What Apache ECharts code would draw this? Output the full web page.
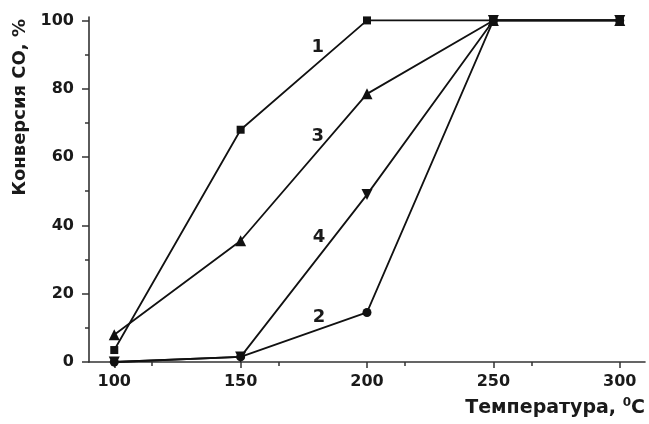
<!DOCTYPE html>
<html><head><meta charset="utf-8">
<script src="https://cdn.jsdelivr.net/npm/echarts@6/dist/echarts.min.js"></script>
<style>html,body{margin:0;padding:0;background:#fff}#c{width:649px;height:424px}</style>
</head><body><div id="c"></div>
<script>
const temps = [100, 150, 200, 250, 300];
const s1 = [3.5, 68, 100, 100, 100];
const s2 = [0, 1.5, 14.5, 100, 100];
const s3 = [8, 35.5, 78.5, 100, 100];
const s4 = [0, 1.5, 49, 100, 100];
const curveLabels = [
  {name: '1', x: 180.5, y: 92},
  {name: '3', x: 180.5, y: 66},
  {name: '4', x: 181, y: 36.5},
  {name: '2', x: 181, y: 13}
];
const xTicks = [100, 150, 200, 250, 300];
const yTicks = [0, 20, 40, 60, 80, 100];

const FONT = '"DejaVu Sans", sans-serif';
const chart = echarts.init(document.getElementById('c'));
function pts(vals){ return temps.map((t,i)=>[t, vals[i]]); }
function mk(name, vals, symbol, size, rot){
  return {name, type:'line', data: pts(vals), symbol, symbolSize: size, symbolRotate: rot||0,
    lineStyle:{color:'#111', width:1.8}, itemStyle:{color:'#111'}, showSymbol:true, z:3, animation:false};
}
chart.setOption({
  animation:false,
  grid:{left:89, right:4, top:17, bottom:62},
  xAxis:{type:'value', min:90, max:310, interval:50,
    axisLine:{onZero:false, lineStyle:{color:'#333', width:1.6}},
    axisTick:{show:true, length:6, inside:false, lineStyle:{color:'#333', width:1.5},
      customValues: xTicks},
    minorTick:{show:true, splitNumber:2, length:4, lineStyle:{color:'#333', width:1.5}},
    splitLine:{show:false},
    axisLabel:{customValues: xTicks, color:'#1a1a1a', fontFamily:FONT, fontWeight:'bold', fontSize:16, margin:12}
  },
  yAxis:{type:'value', min:0, max:101,
    axisLine:{show:true, lineStyle:{color:'#333', width:1.6}},
    axisTick:{show:true, length:7, lineStyle:{color:'#333', width:1.5}, customValues: yTicks},
    minorTick:{show:true, splitNumber:2, length:4, lineStyle:{color:'#333', width:1.5}},
    splitLine:{show:false},
    axisLabel:{customValues: yTicks, color:'#1a1a1a', fontFamily:FONT, fontWeight:'bold', fontSize:16, margin:15}
  },
  graphic:[
    {type:'text', left:11, top:19, rotation:Math.PI/2,
      style:{text:'Конверсия СО, %', font:'bold 18px '+FONT, fill:'#1a1a1a'}},
    {type:'text', right:4, top:397,
      style:{text:'Температура, {s|0}C', font:'bold 19px '+FONT, fill:'#1a1a1a',
        rich:{s:{font:'bold 12px '+FONT, verticalAlign:'top', padding:[0,0,10,0], fill:'#1a1a1a'}}}}
  ],
  series:[
    mk('1', s1, 'rect', 8),
    mk('2', s2, 'circle', 9),
    mk('3', s3, 'triangle', 11),
    mk('4', s4, 'triangle', 11, 180),
    {type:'scatter', data: curveLabels.map(l=>[l.x, l.y, l.name]), symbolSize:0,
      itemStyle:{opacity:1, color:'#1a1a1a'},
      label:{show:true, formatter:p=>p.data[2], color:'#1a1a1a', opacity:1, fontFamily:FONT, fontWeight:'bold', fontSize:18, position:'inside'},
      z:5, silent:true}
  ]
});
</script></body></html>
